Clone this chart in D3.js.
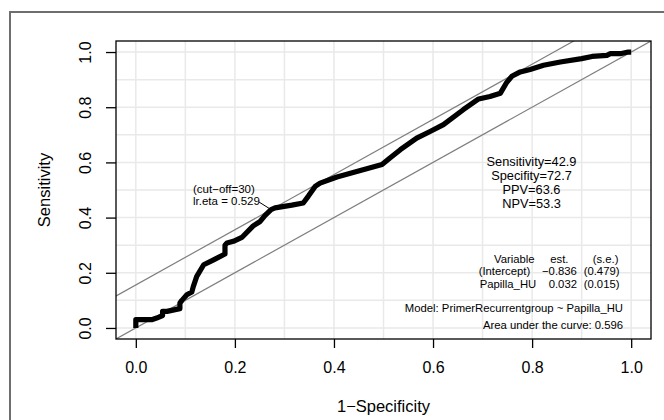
<!DOCTYPE html>
<html>
<head>
<script src="https://d3js.org/d3.v7.min.js"></script>
<style>
  body { margin: 0; background: #fff; }
  text { font-family: "Liberation Sans", Arial, sans-serif; fill: #000; }
</style>
</head>
<body>
<div id="chart"></div>
<script>
// ROC curve points (1-specificity, sensitivity)
const fpr = [0, 0, 0.032, 0.042, 0.054, 0.054, 0.063, 0.089, 0.089, 0.093, 0.103, 0.113, 0.116, 0.123,
  0.137, 0.157, 0.180, 0.180, 0.184, 0.197, 0.214, 0.237, 0.251, 0.261, 0.273, 0.281, 0.315, 0.338,
  0.348, 0.362, 0.372, 0.406, 0.446, 0.497, 0.513, 0.534, 0.567, 0.594, 0.621, 0.661, 0.692, 0.715,
  0.736, 0.748, 0.759, 0.776, 0.796, 0.823, 0.857, 0.900, 0.921, 0.951, 0.958, 0.978, 0.994, 1.0];
const tpr = [0, 0.030, 0.030, 0.036, 0.045, 0.060, 0.060, 0.070, 0.090, 0.100, 0.120, 0.130, 0.150, 0.187,
  0.229, 0.247, 0.268, 0.300, 0.308, 0.314, 0.328, 0.370, 0.386, 0.408, 0.429, 0.435, 0.445, 0.453,
  0.477, 0.513, 0.525, 0.547, 0.567, 0.592, 0.616, 0.646, 0.688, 0.712, 0.737, 0.791, 0.830, 0.839,
  0.851, 0.888, 0.912, 0.928, 0.937, 0.952, 0.964, 0.976, 0.984, 0.988, 0.994, 0.994, 1.0, 1.0];

const ticks = [0, 0.2, 0.4, 0.6, 0.8, 1.0];
const gridVals = [0, 0.1, 0.2, 0.3, 0.4, 0.5, 0.6, 0.7, 0.8, 0.9, 1.0];

// optimal cut-off point and tangent line intercept
const cutPoint = [0.273, 0.429];
const cutLabels = ["(cut\u2212off=30)", "lr.eta = 0.529"];

const statLabels = ["Sensitivity=42.9", "Specifity=72.7", "PPV=63.6", "NPV=53.3"];

// coefficient table rows
const tableRows = [
  ["Variable", "est.", "(s.e.)"],
  ["(Intercept)", "\u22120.836", "(0.479)"],
  ["Papilla_HU", "0.032", "(0.015)"]
];
const modelText = "Model:  PrimerRecurrentgroup ~ Papilla_HU";
const aucText = "Area under the curve: 0.596";

const FONT = "'Liberation Sans', Arial, sans-serif";
const W = 664, H = 420;
const svg = d3.select("#chart").append("svg")
  .attr("width", W).attr("height", H)
  .attr("font-family", FONT);

// outer frame
svg.append("rect")
  .attr("x", 10).attr("y", 12).attr("width", 700).attr("height", 450)
  .attr("fill", "none").attr("stroke", "#6e6e6e").attr("stroke-width", 2);

const pLeft = 116, pRight = 651, pTop = 41, pBottom = 339;
const x = d3.scaleLinear().domain([-0.04, 1.04]).range([pLeft, pRight]);
const y = d3.scaleLinear().domain([-0.04, 1.04]).range([pBottom, pTop]);

svg.append("clipPath").attr("id", "clip")
  .append("rect").attr("x", pLeft).attr("y", pTop)
  .attr("width", pRight - pLeft).attr("height", pBottom - pTop);

// grid
const grid = svg.append("g").attr("stroke", "#e9e9e9").attr("stroke-width", 1.5);
grid.selectAll(".gx").data(gridVals).enter().append("line")
  .attr("x1", d => x(d)).attr("x2", d => x(d)).attr("y1", pTop).attr("y2", pBottom);
grid.selectAll(".gy").data(gridVals).enter().append("line")
  .attr("y1", d => y(d)).attr("y2", d => y(d)).attr("x1", pLeft).attr("x2", pRight);

// diagonal lines: y = x and tangent at the cut-off
const plotArea = svg.append("g").attr("clip-path", "url(#clip)");
const intercepts = [0, cutPoint[1] - cutPoint[0]];
plotArea.selectAll(".diag").data(intercepts).enter().append("line")
  .attr("x1", x(-0.2)).attr("x2", x(1.2))
  .attr("y1", d => y(-0.2 + d)).attr("y2", d => y(1.2 + d))
  .attr("stroke", "#7f7f7f").attr("stroke-width", 1.2);

// ROC curve
const line = d3.line().x(d => x(d[0])).y(d => y(d[1]));
plotArea.append("path")
  .datum(fpr.map((f, i) => [f, tpr[i]]))
  .attr("d", line)
  .attr("fill", "none").attr("stroke", "#000").attr("stroke-width", 5.2)
  .attr("stroke-linejoin", "round");

// box
svg.append("rect")
  .attr("x", pLeft).attr("y", pTop).attr("width", pRight - pLeft).attr("height", pBottom - pTop)
  .attr("fill", "none").attr("stroke", "#000").attr("stroke-width", 1.3);

// axes
const xAxis = svg.append("g").attr("transform", `translate(0,${pBottom})`)
  .call(d3.axisBottom(x).tickValues(ticks).tickFormat(d3.format(".1f")).tickSize(9).tickSizeOuter(0));
xAxis.attr("font-family", FONT);
xAxis.select(".domain").remove();
xAxis.selectAll("line").attr("stroke-width", 1.3);
xAxis.selectAll("text").attr("font-size", 16).attr("dy", null).attr("y", 34);

const yAxis = svg.append("g").attr("transform", `translate(${pLeft},0)`)
  .call(d3.axisLeft(y).tickValues(ticks).tickFormat(d3.format(".1f")).tickSize(10).tickSizeOuter(0));
yAxis.attr("font-family", FONT);
yAxis.select(".domain").remove();
yAxis.selectAll("line").attr("stroke-width", 1.3);
yAxis.selectAll("text")
  .attr("font-size", 16).attr("x", null).attr("dy", null)
  .attr("text-anchor", "middle")
  .attr("transform", "translate(-31,0) rotate(-90)")
  .attr("y", 0).attr("dy", "0.35em");

// axis titles
svg.append("text").attr("x", (pLeft + pRight) / 2).attr("y", 412)
  .attr("text-anchor", "middle").attr("font-size", 16.5).text("1\u2212Specificity");
svg.append("text")
  .attr("transform", `translate(50,${(pTop + pBottom) / 2}) rotate(-90)`)
  .attr("text-anchor", "middle").attr("font-size", 16.5).text("Sensitivity");

// cut-off annotation
svg.append("line")
  .attr("x1", 259).attr("y1", 202).attr("x2", x(cutPoint[0])).attr("y2", y(cutPoint[1]))
  .attr("stroke", "#000").attr("stroke-width", 1);
svg.selectAll(".cut").data(cutLabels).enter().append("text")
  .attr("x", 193).attr("y", (d, i) => 193 + i * 12)
  .attr("font-size", 11.5).text(d => d);

// stats block
svg.selectAll(".stat").data(statLabels).enter().append("text")
  .attr("x", 531.5).attr("y", (d, i) => 166 + i * 13.9)
  .attr("text-anchor", "middle").attr("font-size", 12.8).text(d => d);

// coefficient table
const colX = [[494, 550.3, 592.7], [478.7, 542, 583.7], [479.7, 548.7, 583.7]];
const rowY = [262.5, 275.3, 288];
tableRows.forEach((row, r) => {
  row.forEach((cell, c) => {
    svg.append("text").attr("x", colX[r][c]).attr("y", rowY[r])
      .attr("font-size", 11.3).text(cell);
  });
});
svg.append("text").attr("x", 623).attr("y", 312).attr("text-anchor", "end")
  .attr("font-size", 11.3).text(modelText);
svg.append("text").attr("x", 623).attr("y", 328.5).attr("text-anchor", "end")
  .attr("font-size", 11.3).text(aucText);
</script>
</body>
</html>
